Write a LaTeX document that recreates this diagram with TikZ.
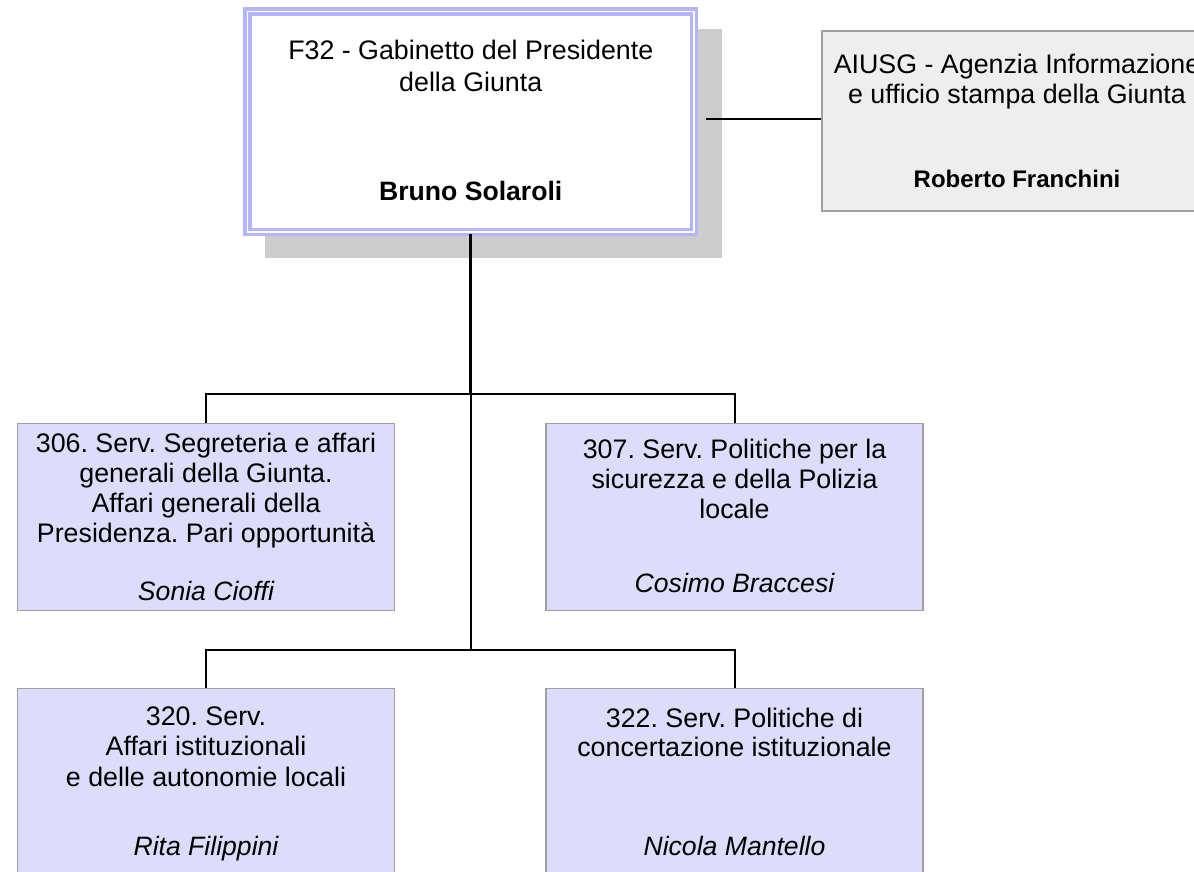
\documentclass[tikz,border=0pt]{standalone}
\usepackage{fontspec}
\setmainfont{Liberation Sans}
\frenchspacing
\definecolor{lav}{RGB}{221,221,251}
\definecolor{lavline}{RGB}{180,180,255}
\definecolor{boxgray}{RGB}{160,160,160}
\definecolor{shadowgray}{RGB}{204,204,204}
\definecolor{agfill}{RGB}{238,238,238}
\begin{document}
\begin{tikzpicture}[x=1pt,y=-1pt,
  unitbox/.style={draw=boxgray,line width=1.5pt,fill=lav,rectangle,inner sep=0pt,
    minimum width=377pt,minimum height=187pt},
  headbox/.style={draw=lavline,double=white,double distance=1.7pt,line width=3.5pt,
    fill=white,rectangle,inner sep=0pt,minimum width=446.5pt,minimum height=220.5pt},
  agbox/.style={draw=boxgray,line width=1.5pt,fill=agfill,rectangle,inner sep=0pt,
    minimum width=392pt,minimum height=180pt},
  conn/.style={draw=black,line width=2pt},
  txt/.style={anchor=base,inner sep=0pt,font=\fontsize{26.8}{30}\selectfont\frenchspacing},
  nameb/.style={anchor=base,inner sep=0pt,font=\fontsize{26.6}{30}\selectfont\bfseries},
  namebs/.style={anchor=base,inner sep=0pt,font=\fontsize{24}{28}\selectfont\bfseries},
  namei/.style={anchor=base,inner sep=0pt,font=\fontsize{26.6}{30}\selectfont\itshape}]
\useasboundingbox (0,0) rectangle (1194,872);
\clip (0,0) rectangle (1194,872);
% shadow of head box
\fill[shadowgray] (265,29) rectangle (722,258);
% boxes
\node[headbox] (top) at (470.75,121.75) {};
\node[agbox] (aiusg) at (1018,121) {};
\node[unitbox] (b306) at (206,517) {};
\node[unitbox] (b307) at (734.5,517) {};
\node[unitbox] (b320) at (206,782) {};
\node[unitbox] (b322) at (734.5,782) {};
% connectors
\coordinate (j1) at (470.75,394);
\coordinate (j2) at (470.75,650);
\coordinate (r0) at (706,119.5);
\draw[conn,line width=2.8pt] (top.south) -- (j1);
\draw[conn] (b306.north) |- (j1) -| (b307.north);
\draw[conn] (j1) -- (j2);
\draw[conn] (b320.north) |- (j2) -| (b322.north);
\draw[conn] (r0) -- (aiusg.west |- r0);
% texts
\node[txt] (t1) at (470.75,60) {F32 - Gabinetto del Presidente};
\node[txt] (t2) at (470.75,92) {della Giunta};
\node[nameb] (n0) at (470.75,200) {Bruno Solaroli};
\node[txt] (a1) at (1017,74) {AIUSG - Agenzia Informazione};
\node[txt] (a2) at (1017,104) {e ufficio stampa della Giunta};
\node[namebs] (an) at (1017,187) {Roberto Franchini};
\node[txt] (s1) at (206,452) {306. Serv. Segreteria e affari};
\node[txt] (s2) at (206,482) {generali della Giunta.};
\node[txt] (s3) at (206,512) {Affari generali della};
\node[txt] (s4) at (206,542) {Presidenza. Pari opportunità};
\node[namei] (sn) at (206,600) {Sonia Cioffi};
\node[txt] (p1) at (734.5,458) {307. Serv. Politiche per la};
\node[txt] (p2) at (734.5,488) {sicurezza e della Polizia};
\node[txt] (p3) at (734.5,518) {locale};
\node[namei] (pn) at (734.5,592) {Cosimo Braccesi};
\node[txt] (q1) at (206,725) {320. Serv.};
\node[txt] (q2) at (206,755) {Affari istituzionali};
\node[txt] (q3) at (206,786) {e delle autonomie locali};
\node[namei] (qn) at (206,855) {Rita Filippini};
\node[txt] (c1) at (734.5,727) {322. Serv. Politiche di};
\node[txt] (c2) at (734.5,756) {concertazione istituzionale};
\node[namei] (cn) at (734.5,855) {Nicola Mantello};
\end{tikzpicture}
\end{document}
